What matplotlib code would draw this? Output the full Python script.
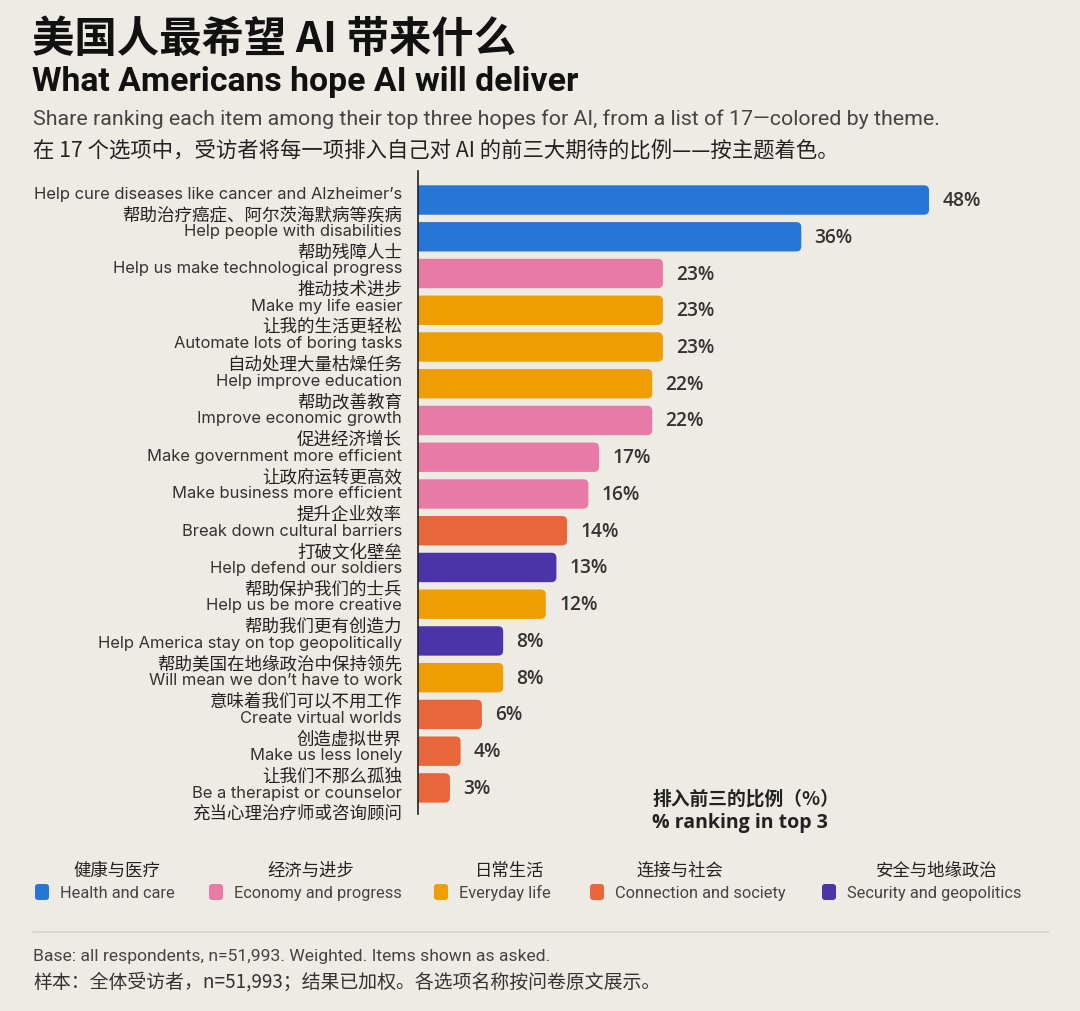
import matplotlib
matplotlib.use("Agg")
import matplotlib.pyplot as plt
from matplotlib.patches import FancyBboxPatch

plt.rcParams['font.family'] = ['Inter', 'Noto Sans CJK SC', 'DejaVu Sans']

# data
labels_en = [
    "Help cure diseases like cancer and Alzheimer’s",
    "Help people with disabilities",
    "Help us make technological progress",
    "Make my life easier",
    "Automate lots of boring tasks",
    "Help improve education",
    "Improve economic growth",
    "Make government more efficient",
    "Make business more efficient",
    "Break down cultural barriers",
    "Help defend our soldiers",
    "Help us be more creative",
    "Help America stay on top geopolitically",
    "Will mean we don’t have to work",
    "Create virtual worlds",
    "Make us less lonely",
    "Be a therapist or counselor",
]
labels_zh = [
    "帮助治疗癌症、阿尔茨海默病等疾病",
    "帮助残障人士",
    "推动技术进步",
    "让我的生活更轻松",
    "自动处理大量枯燥任务",
    "帮助改善教育",
    "促进经济增长",
    "让政府运转更高效",
    "提升企业效率",
    "打破文化壁垒",
    "帮助保护我们的士兵",
    "帮助我们更有创造力",
    "帮助美国在地缘政治中保持领先",
    "意味着我们可以不用工作",
    "创造虚拟世界",
    "让我们不那么孤独",
    "充当心理治疗师或咨询顾问",
]
values = [48, 36, 23, 23, 23, 22, 22, 17, 16, 14, 13, 12, 8, 8, 6, 4, 3]
themes = ["health", "health", "economy", "everyday", "everyday", "everyday",
          "economy", "economy", "economy", "connection", "security", "everyday",
          "security", "everyday", "connection", "connection", "connection"]

theme_keys = ["health", "economy", "everyday", "connection", "security"]
theme_en = ["Health and care", "Economy and progress", "Everyday life",
            "Connection and society", "Security and geopolitics"]
theme_zh = ["健康与医疗", "经济与进步", "日常生活", "连接与社会", "安全与地缘政治"]
theme_colors = {
    "health": "#2675d7",
    "economy": "#e87aa6",
    "everyday": "#ee9e02",
    "connection": "#e9663a",
    "security": "#4a35a8",
}

bg = "#eeebe5"
W, H = 1080, 1012
fig = plt.figure(figsize=(W / 100, H / 100), dpi=100, facecolor=bg)

def fx(px):
    return px / W

def fy(py):
    return 1 - py / H

CJK = ['Noto Sans CJK SC', 'DejaVu Sans']

# titles
fig.text(fx(32), fy(40), "美国人最希望 AI 带来什么", fontsize=30.5, fontweight='bold',
         family=CJK, va='center', color='#111')
fig.text(fx(32), fy(82), "What Americans hope AI will deliver", fontsize=24.3,
         fontweight='bold', family=['Roboto', 'DejaVu Sans'], va='center', color='#111')
fig.text(fx(33), fy(119), "Share ranking each item among their top three hopes for AI, "
         "from a list of 17—colored by theme.", fontsize=15.4,
         family=['Roboto', 'DejaVu Sans'], va='center', color='#444')
fig.text(fx(33), fy(151), "在 17 个选项中，受访者将每一项排入自己对 AI 的前三大期待的比例——按主题着色。",
         fontsize=15.4, family=CJK, va='center', color='#222')

# bar axes
ax_left, ax_right, ax_top, ax_bot = 418, 1060, 172, 815
ax = fig.add_axes([fx(ax_left), fy(ax_bot), fx(ax_right - ax_left), (ax_bot - ax_top) / H])
ax.set_facecolor('none')
n = len(values)
xmax = 60.3
ax.set_xlim(0, xmax)
ax.set_ylim(n - 1 + 0.71, -0.79)

px_per_x = (ax_right - ax_left) / xmax
px_per_y = (ax_bot - ax_top) / (n - 1 + 0.71 + 0.79)
radius_px = 5
bar_h = 0.8
for i, (v, t) in enumerate(zip(values, themes)):
    box = FancyBboxPatch((-2, i - bar_h / 2), v + 2, bar_h,
                         boxstyle=f"round,pad=0,rounding_size={radius_px / px_per_x}",
                         mutation_aspect=px_per_x / px_per_y,
                         facecolor=theme_colors[t], edgecolor='none', clip_on=True)
    ax.add_patch(box)
    ax.text(v + 1.25, i, f"{v}%", va='center', ha='left', fontsize=13.8,
            fontweight='semibold', family=['Open Sans', 'DejaVu Sans'], color='#333')
    # label rows run on a slightly wider pitch than the bars
    ly = -0.19 + i * 1.019
    ax.text(-1.5, ly, labels_en[i], ha='right', va='center', fontsize=11.9,
            color='#333', clip_on=False)
    ax.text(-1.5, ly + 0.57, labels_zh[i], ha='right', va='center', fontsize=12.6,
            family=CJK, color='#222', clip_on=False)

for s in ['top', 'right', 'bottom']:
    ax.spines[s].set_visible(False)
ax.spines['left'].set_color('#222')
ax.spines['left'].set_linewidth(1.2)
ax.set_xticks([])
ax.set_yticks([])

# axis caption
fig.text(fx(746), fy(799), "排入前三的比例（%）", ha='center', va='center', fontsize=13.5,
         fontweight='bold', family=CJK, color='#222')
fig.text(fx(740), fy(823), "% ranking in top 3", ha='center', va='center', fontsize=14,
         fontweight='bold', family=['Open Sans', 'DejaVu Sans'], color='#222')

# legend
sq_x = [35, 209, 434, 590, 822]
head_x = [117, 311, 510, 680, 937]
for k, key in enumerate(theme_keys):
    fig.patches.append(FancyBboxPatch((fx(sq_x[k]), fy(901)), fx(14), 16 / H,
                       boxstyle="round,pad=0,rounding_size=0.003",
                       transform=fig.transFigure, facecolor=theme_colors[key],
                       edgecolor='none'))
    fig.text(fx(sq_x[k] + 25), fy(898), theme_en[k], va='baseline', ha='left',
             fontsize=11.8, family=['Roboto', 'DejaVu Sans'], color='#444')
    fig.text(fx(head_x[k]), fy(871), theme_zh[k], va='center', ha='center',
             fontsize=12.5, family=CJK, color='#222')

# separator and footnotes
fig.add_artist(plt.Line2D([fx(33), fx(1048)], [fy(933), fy(933)], color='#d6d3cd',
                          linewidth=1.2, transform=fig.transFigure))
fig.text(fx(33), fy(957), "Base: all respondents, n=51,993. Weighted. Items shown as asked.",
         va='center', fontsize=12.6, family=['Roboto', 'DejaVu Sans'], color='#444')
fig.text(fx(33), fy(983), "样本：全体受访者，n=51,993；结果已加权。各选项名称按问卷原文展示。",
         va='center', fontsize=13.6, family=CJK, color='#333')

fig.savefig("out.png", dpi=100, facecolor=bg)
